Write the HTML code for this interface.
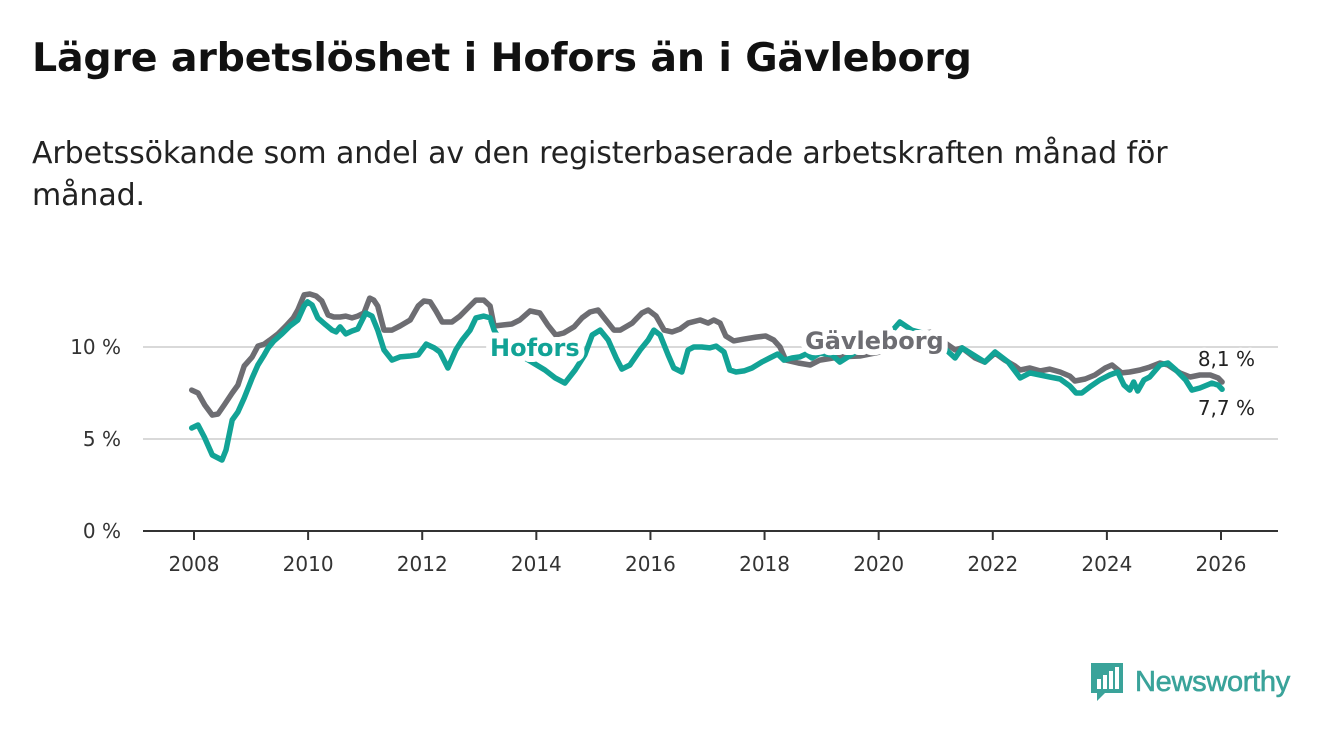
<!DOCTYPE html>
<html><head><meta charset="utf-8"><style>
body{margin:0;background:#fff;font-family:"DejaVu Sans",sans-serif;}
#wrap{position:relative;width:1340px;height:734px;overflow:hidden;}
h1{position:absolute;left:32px;top:35px;margin:0;font-size:39.5px;font-weight:bold;color:#111;font-family:"DejaVu Sans",sans-serif;letter-spacing:-0.2px;}
p.sub{position:absolute;left:32px;top:133px;margin:0;font-size:30px;line-height:42px;color:#222;width:1200px;font-family:"DejaVu Sans",sans-serif;letter-spacing:-0.1px;}
</style></head><body>
<div id="wrap">
<h1>Lägre arbetslöshet i Hofors än i Gävleborg</h1>
<p class="sub">Arbetssökande som andel av den registerbaserade arbetskraften månad för månad.</p>
<svg id="chart" width="1340" height="734" style="position:absolute;left:0;top:0"></svg>
<div style="position:absolute;left:1089px;top:661px;display:flex;align-items:center;">
<svg width="36" height="42"><path d="M2 2h32v30h-18l-8 8v-8h-6z" fill="#3aa39a"/><rect x="8" y="18" width="4" height="10" fill="#fff"/><rect x="14" y="14" width="4" height="14" fill="#fff"/><rect x="20" y="10" width="4" height="18" fill="#fff"/><rect x="26" y="6" width="4" height="22" fill="#fff"/></svg>
<span style="margin-left:10px;font-size:29px;color:#3aa39a;font-family:'Liberation Sans',sans-serif;letter-spacing:-0.3px;-webkit-text-stroke:0.6px #3aa39a">Newsworthy</span></div>
</div>
<script>
const yTicks=[0,5,10];
const xTicks=[2008,2010,2012,2014,2016,2018,2020,2022,2024,2026];
const gYears=[2007.96,2008.07,2008.19,2008.32,2008.42,2008.53,2008.67,2008.77,2008.88,2009.02,2009.12,2009.23,2009.33,2009.47,2009.61,2009.74,2009.82,2009.93,2010.03,2010.14,2010.24,2010.35,2010.45,2010.56,2010.66,2010.77,2010.87,2010.98,2011.08,2011.15,2011.22,2011.33,2011.47,2011.61,2011.79,2011.93,2012.03,2012.14,2012.24,2012.35,2012.52,2012.66,2012.8,2012.94,2013.08,2013.19,2013.26,2013.43,2013.57,2013.71,2013.89,2014.06,2014.2,2014.34,2014.48,2014.66,2014.8,2014.94,2015.08,2015.22,2015.36,2015.47,2015.68,2015.85,2015.96,2016.1,2016.24,2016.38,2016.52,2016.66,2016.87,2017.01,2017.11,2017.22,2017.32,2017.46,2017.64,2017.85,2018.02,2018.16,2018.27,2018.37,2018.59,2018.8,2018.97,2019.32,2019.67,2020.02,2020.37,2020.9,2021.34,2021.46,2021.69,2021.86,2022.04,2022.21,2022.39,2022.48,2022.65,2022.83,2023.0,2023.18,2023.35,2023.44,2023.62,2023.79,2023.97,2024.09,2024.26,2024.4,2024.58,2024.75,2024.93,2025.07,2025.28,2025.46,2025.63,2025.81,2025.95,2026.02];
const gValues=[7.66,7.5,6.85,6.3,6.36,6.85,7.5,7.93,8.97,9.46,10.05,10.16,10.38,10.71,11.14,11.58,12.01,12.83,12.88,12.77,12.5,11.74,11.63,11.63,11.68,11.58,11.68,11.85,12.66,12.55,12.23,10.92,10.92,11.14,11.47,12.23,12.5,12.45,11.96,11.36,11.36,11.68,12.12,12.55,12.55,12.23,11.14,11.2,11.25,11.47,11.96,11.85,11.2,10.65,10.76,11.09,11.58,11.9,12.01,11.47,10.92,10.92,11.3,11.85,12.01,11.68,10.92,10.82,10.98,11.3,11.47,11.3,11.47,11.3,10.6,10.33,10.43,10.54,10.6,10.38,10.0,9.29,9.13,9.02,9.29,9.46,9.51,9.73,10.6,10.8,9.84,9.95,9.4,9.18,9.67,9.29,8.97,8.75,8.86,8.7,8.8,8.64,8.42,8.15,8.26,8.48,8.86,9.02,8.59,8.64,8.75,8.91,9.13,9.02,8.59,8.37,8.48,8.48,8.32,8.1];
const hYears=[2007.96,2008.07,2008.18,2008.32,2008.49,2008.56,2008.67,2008.77,2008.88,2009.02,2009.12,2009.23,2009.3,2009.4,2009.54,2009.68,2009.82,2009.93,2009.99,2010.07,2010.17,2010.31,2010.42,2010.49,2010.56,2010.66,2010.77,2010.87,2011.01,2011.12,2011.22,2011.33,2011.47,2011.61,2011.79,2011.93,2012.07,2012.21,2012.31,2012.45,2012.59,2012.7,2012.84,2012.94,2013.08,2013.19,2013.26,2013.36,2013.71,2014.15,2014.33,2014.5,2014.68,2014.85,2014.98,2015.12,2015.26,2015.4,2015.5,2015.64,2015.82,2015.96,2016.06,2016.17,2016.31,2016.41,2016.55,2016.66,2016.76,2016.9,2017.04,2017.15,2017.29,2017.39,2017.5,2017.64,2017.78,2017.95,2018.09,2018.23,2018.34,2018.48,2018.62,2018.73,2018.83,2018.97,2019.18,2019.32,2019.46,2019.67,2020.02,2020.37,2020.58,2020.9,2021.34,2021.46,2021.69,2021.86,2022.04,2022.27,2022.48,2022.65,2022.83,2023.0,2023.18,2023.35,2023.46,2023.56,2023.7,2023.88,2024.05,2024.19,2024.3,2024.4,2024.47,2024.54,2024.65,2024.75,2024.93,2025.07,2025.21,2025.38,2025.49,2025.63,2025.84,2025.95,2026.02];
const hValues=[5.6,5.76,5.11,4.13,3.86,4.4,6.03,6.47,7.23,8.32,9.02,9.57,9.95,10.33,10.71,11.14,11.47,12.23,12.45,12.28,11.58,11.2,10.92,10.82,11.09,10.71,10.87,10.98,11.85,11.68,10.92,9.84,9.29,9.46,9.51,9.57,10.16,9.95,9.73,8.86,9.84,10.38,10.92,11.58,11.68,11.58,10.92,10.38,9.57,8.75,8.32,8.04,8.75,9.57,10.65,10.92,10.38,9.4,8.8,9.02,9.84,10.38,10.92,10.65,9.57,8.86,8.64,9.84,10.0,10.0,9.95,10.05,9.73,8.75,8.64,8.7,8.86,9.18,9.4,9.62,9.29,9.4,9.46,9.62,9.4,9.67,9.57,9.18,9.46,9.84,10.11,11.36,10.92,10.65,9.4,9.95,9.51,9.18,9.73,9.18,8.32,8.59,8.48,8.37,8.26,7.88,7.5,7.5,7.83,8.21,8.48,8.64,7.93,7.66,8.1,7.61,8.21,8.37,9.02,9.13,8.75,8.21,7.66,7.77,8.04,7.93,7.7];
const NS="http://www.w3.org/2000/svg";
const svg=document.getElementById('chart');
const X0=143,X1=1278;
const FONT='DejaVu Sans, sans-serif';
const xs=y=>194+(y-2008)*(1221-194)/18;
const ys=v=>531-v*18.4;
function mk(t,a){const e=document.createElementNS(NS,t);for(const k in a)e.setAttribute(k,a[k]);svg.appendChild(e);return e;}
yTicks.forEach(t=>{
  if(t>0){const l=mk('line',{x1:X0,x2:X1,y1:ys(t),y2:ys(t),stroke:'#d9d9d9','stroke-width':2});
  
  }
  const tx=mk('text',{x:121,y:ys(t)+7,'text-anchor':'end','font-size':20,fill:'#333','font-family':FONT});
  tx.textContent=t+' %';
  
  
});
const ax=mk('line',{x1:X0,x2:X1,y1:531,y2:531,stroke:'#333','stroke-width':2});


xTicks.forEach(t=>{
  const tk=mk('line',{x1:xs(t),x2:xs(t),y1:531,y2:540,stroke:'#333','stroke-width':2});
  
  
  const tx=mk('text',{x:xs(t),y:571,'text-anchor':'middle','font-size':20,fill:'#333','font-family':FONT});
  tx.textContent=t;
  
  
});
function line(yr,vals,col,name){
  const d=yr.map((y,i)=>(i?'L':'M')+xs(y).toFixed(1)+' '+ys(vals[i]).toFixed(1)).join('');
  const p=mk('path',{d:d,fill:'none',stroke:col,'stroke-width':5.5,'stroke-linejoin':'round','stroke-linecap':'round'});
  
  
}
line(gYears,gValues,'#6d6d72','gavleborg-line');
line(hYears,hValues,'#12a396','hofors-line');
function lab(txt,x,y,col,size,bold,name,anchor,halo){
  const a={x:x,y:y,'font-size':size,'font-weight':bold?'bold':'normal','font-family':FONT,'text-anchor':anchor||'start'};
  const h=mk('text',Object.assign({},a,{fill:'#fff',stroke:'#fff','stroke-width':halo,'stroke-linejoin':'round'}));h.textContent=txt;
  
  
  const t=mk('text',Object.assign({},a,{fill:col}));t.textContent=txt;
  
  
}
lab('Hofors',490,356,'#12a396',24,true,'hofors-label','start',12);
lab('Gävleborg',805,349,'#6d6d72',24,true,'gavleborg-label','start',12);
lab('8,1 %',1255,366,'#222',20,false,'gavleborg-end-value','end',6);
lab('7,7 %',1255,415,'#222',20,false,'hofors-end-value','end',6);
</script>
</body></html>
